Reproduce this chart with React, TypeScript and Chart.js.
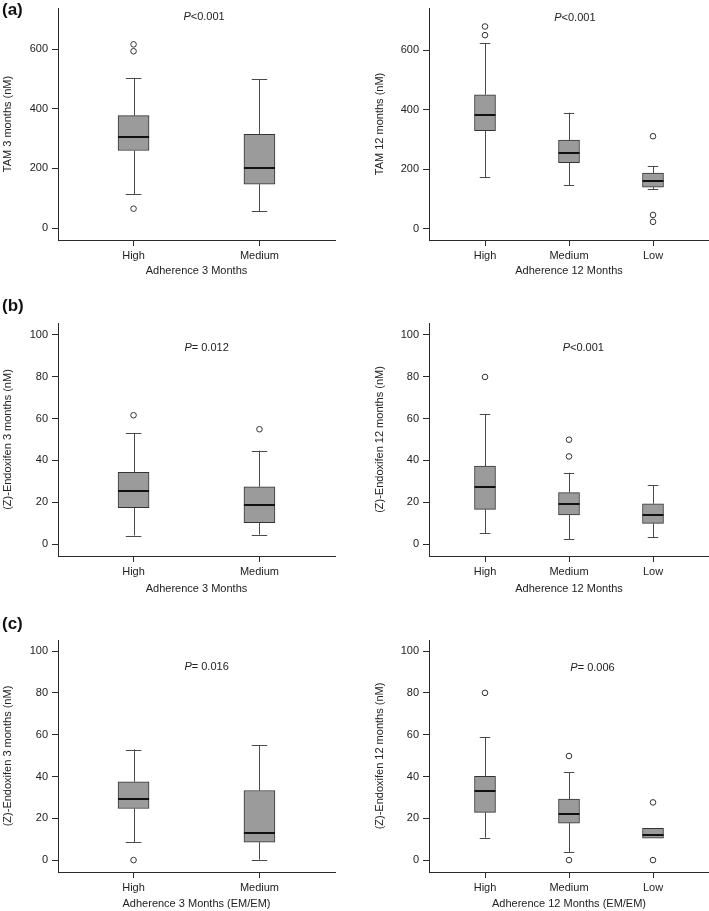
import React, { useEffect, useRef } from "react";
import { Chart, registerables } from "chart.js";

Chart.register(...registerables);

const FONT = "'Liberation Sans', Arial, sans-serif";

// ---------- categories ----------
const GROUPS_3 = ["High", "Medium"];
const GROUPS_12 = ["High", "Medium", "Low"];

// ---------- tick labels ----------
const TAM_TICKS = [0, 200, 400, 600];
const ENDO_TICKS = [0, 20, 40, 60, 80, 100];

// ---------- (a) TAM 3 months ----------
const TAM3_MIN = [114, 57];
const TAM3_Q1 = [260, 147];
const TAM3_MED = [306, 203];
const TAM3_Q3 = [377, 314];
const TAM3_MAX = [504, 500];
const TAM3_OUT = [[616, 593, 65], []];

// ---------- (a) TAM 12 months ----------
const TAM12_MIN = [173, 147, 134];
const TAM12_Q1 = [330, 222, 140];
const TAM12_MED = [381, 254, 161];
const TAM12_Q3 = [450, 298, 187];
const TAM12_MAX = [622, 390, 210];
const TAM12_OUT = [[679, 650], [], [311, 47, 24]];

// ---------- (b) Endoxifen 3 months ----------
const ENDO3_MIN = [4.1, 4.5];
const ENDO3_Q1 = [17.4, 10.2];
const ENDO3_MED = [25.5, 18.5];
const ENDO3_Q3 = [34.3, 27.4];
const ENDO3_MAX = [53.1, 44.7];
const ENDO3_OUT = [[61.6], [54.9]];

// ---------- (b) Endoxifen 12 months ----------
const ENDO12_MIN = [5.1, 2.2, 3.2];
const ENDO12_Q1 = [16.6, 14.0, 9.9];
const ENDO12_MED = [27.3, 19.1, 13.9];
const ENDO12_Q3 = [37.3, 24.6, 19.3];
const ENDO12_MAX = [62.2, 34.1, 28.2];
const ENDO12_OUT = [[79.9], [49.9, 41.9], []];

// ---------- (c) Endoxifen 3 months EM/EM ----------
const EM3_MIN = [8.5, 0.2];
const EM3_Q1 = [24.7, 8.6];
const EM3_MED = [29.3, 13.1];
const EM3_Q3 = [37.5, 33.3];
const EM3_MAX = [52.9, 54.9];
const EM3_OUT = [[0], []];

// ---------- (c) Endoxifen 12 months EM/EM ----------
const EM12_MIN = [10.7, 3.7, 10.5];
const EM12_Q1 = [22.8, 17.7, 10.5];
const EM12_MED = [33.2, 22.0, 12.0];
const EM12_Q3 = [40.1, 29.2, 15.2];
const EM12_MAX = [58.9, 42.0, 15.2];
const EM12_OUT = [[80], [49.8, 0], [27.6, 0]];

type Panel = {
  labels: string[];
  min: number[];
  q1: number[];
  med: number[];
  q3: number[];
  max: number[];
  out: number[][];
  yTitle: string;
  xTitle: string;
  yRange: [number, number];
  yTicks: number[];
  pLabel: string;
  pPos: [number, number];
  // layout
  left: number;
  top: number;
  width: number;
  height: number;
  padTop: number;
  padRight: number;
  yWidth: number;
  xHeight: number;
  yTitlePad: number;
  xRange: [number, number];
  boxPx: number;
};

const COL_L = { left: 0, width: 354, padRight: 19, yWidth: 58, yTitlePad: 1, xRange: [-0.6, 1.6] as [number, number], boxPx: 31 };
const COL_R = { left: 355, width: 354, padRight: 0, yWidth: 74, yTitlePad: 18, xRange: [-2 / 3, 8 / 3] as [number, number], boxPx: 21 };
const ROW_A = { top: 0, height: 278, padTop: 8, xHeight: 38 };
const ROW_B = { top: 290, height: 306, padTop: 33, xHeight: 40 };
const ROW_C = { top: 605, height: 306, padTop: 35, xHeight: 39 };

const PANELS: Panel[] = [
  {
    ...COL_L, ...ROW_A,
    labels: GROUPS_3, min: TAM3_MIN, q1: TAM3_Q1, med: TAM3_MED, q3: TAM3_Q3, max: TAM3_MAX, out: TAM3_OUT,
    yTitle: "TAM 3 months (nM)", xTitle: "Adherence 3 Months", yRange: [-40, 738], yTicks: TAM_TICKS,
    pLabel: "<0.001", pPos: [0.56, 708],
  },
  {
    ...COL_R, ...ROW_A,
    labels: GROUPS_12, min: TAM12_MIN, q1: TAM12_Q1, med: TAM12_MED, q3: TAM12_Q3, max: TAM12_MAX, out: TAM12_OUT,
    yTitle: "TAM 12 months (nM)", xTitle: "Adherence 12 Months", yRange: [-37, 741], yTicks: TAM_TICKS,
    pLabel: "<0.001", pPos: [1.07, 708],
  },
  {
    ...COL_L, ...ROW_B,
    labels: GROUPS_3, min: ENDO3_MIN, q1: ENDO3_Q1, med: ENDO3_MED, q3: ENDO3_Q3, max: ENDO3_MAX, out: ENDO3_OUT,
    yTitle: "(Z)-Endoxifen 3 months (nM)", xTitle: "Adherence 3 Months", yRange: [-5.7, 105.7], yTicks: ENDO_TICKS,
    pLabel: "= 0.012", pPos: [0.58, 93.8],
  },
  {
    ...COL_R, ...ROW_B,
    labels: GROUPS_12, min: ENDO12_MIN, q1: ENDO12_Q1, med: ENDO12_MED, q3: ENDO12_Q3, max: ENDO12_MAX, out: ENDO12_OUT,
    yTitle: "(Z)-Endoxifen 12 months (nM)", xTitle: "Adherence 12 Months", yRange: [-5.7, 105.7], yTicks: ENDO_TICKS,
    pLabel: "<0.001", pPos: [1.17, 93.8],
  },
  {
    ...COL_L, ...ROW_C,
    labels: GROUPS_3, min: EM3_MIN, q1: EM3_Q1, med: EM3_MED, q3: EM3_Q3, max: EM3_MAX, out: EM3_OUT,
    yTitle: "(Z)-Endoxifen 3 months (nM)", xTitle: "Adherence 3 Months (EM/EM)", yRange: [-5.7, 105.3], yTicks: ENDO_TICKS,
    pLabel: "= 0.016", pPos: [0.58, 92.3],
  },
  {
    ...COL_R, ...ROW_C,
    labels: GROUPS_12, min: EM12_MIN, q1: EM12_Q1, med: EM12_MED, q3: EM12_Q3, max: EM12_MAX, out: EM12_OUT,
    yTitle: "(Z)-Endoxifen 12 months (nM)", xTitle: "Adherence 12 Months (EM/EM)", yRange: [-5.7, 105.3], yTicks: ENDO_TICKS,
    pLabel: "= 0.006", pPos: [1.28, 91.9],
  },
];

const INK = "#2b2b2b";

const boxPlugin = {
  id: "boxWhiskers",
  afterDatasetsDraw(chart: any, _args: any, opts: any) {
    const p: Panel = opts.panel;
    const meta = chart.getDatasetMeta(0);
    const y = chart.scales.y;
    const ctx = chart.ctx;
    ctx.save();
    meta.data.forEach((bar: any, i: number) => {
      const cx = bar.x;
      const w = bar.width;
      const capHalf = w * 0.25;
      const yq1 = y.getPixelForValue(p.q1[i]);
      const yq3 = y.getPixelForValue(p.q3[i]);
      const ymin = y.getPixelForValue(p.min[i]);
      const ymax = y.getPixelForValue(p.max[i]);
      const ymed = y.getPixelForValue(p.med[i]);
      const xc = Math.round(cx) + 0.5;
      ctx.strokeStyle = "#4a4a4a";
      ctx.lineWidth = 1;
      ctx.beginPath();
      if (p.max[i] > p.q3[i]) {
        ctx.moveTo(xc, yq3);
        ctx.lineTo(xc, ymax);
        ctx.moveTo(cx - capHalf, Math.round(ymax) + 0.5);
        ctx.lineTo(cx + capHalf, Math.round(ymax) + 0.5);
      }
      if (p.min[i] < p.q1[i]) {
        ctx.moveTo(xc, yq1);
        ctx.lineTo(xc, ymin);
        ctx.moveTo(cx - capHalf, Math.round(ymin) + 0.5);
        ctx.lineTo(cx + capHalf, Math.round(ymin) + 0.5);
      }
      ctx.stroke();
      ctx.strokeStyle = "#111";
      ctx.lineWidth = 2;
      ctx.beginPath();
      ctx.moveTo(cx - w / 2, Math.round(ymed));
      ctx.lineTo(cx + w / 2, Math.round(ymed));
      ctx.stroke();
    });
    // P value annotation
    const xs = chart.scales.x;
    const px = xs.getPixelForValue(p.pPos[0]);
    const py = y.getPixelForValue(p.pPos[1]);
    ctx.fillStyle = "#222";
    ctx.textBaseline = "middle";
    ctx.textAlign = "left";
    ctx.font = `italic 11px ${FONT}`;
    const wP = ctx.measureText("P").width;
    ctx.font = `11px ${FONT}`;
    const wR = ctx.measureText(p.pLabel).width;
    const start = px - (wP + wR) / 2;
    ctx.font = `italic 11px ${FONT}`;
    ctx.fillText("P", start, py);
    ctx.font = `11px ${FONT}`;
    ctx.fillText(p.pLabel, start + wP, py);
    ctx.restore();
  },
};

function BoxPanel({ p }: { p: Panel }) {
  const ref = useRef<HTMLCanvasElement>(null);
  useEffect(() => {
    if (!ref.current) return;
    const boxData = p.labels.map((_, i) => ({ x: i, y: [p.q1[i], p.q3[i]] }));
    const outData: { x: number; y: number }[] = [];
    p.out.forEach((arr, i) => arr.forEach((v) => outData.push({ x: i, y: v })));
    const zeroPad = (s: any) => {
      s.paddingLeft = 0;
      s.paddingRight = 0;
      s.paddingTop = 0;
      s.paddingBottom = 0;
    };
    const chart = new Chart(ref.current, {
      type: "bar",
      data: {
        datasets: [
          {
            type: "bar",
            data: boxData as any,
            backgroundColor: "#9b9b9b",
            borderColor: "#333",
            borderWidth: 1,
            borderSkipped: false,
            barThickness: p.boxPx,
          } as any,
          {
            type: "scatter",
            data: outData,
            pointRadius: 2.8,
            pointBackgroundColor: "#fff",
            pointBorderColor: "#333",
            pointBorderWidth: 1,
          } as any,
        ],
      },
      options: {
        animation: false,
        responsive: false,
        devicePixelRatio: 1,
        layout: { autoPadding: false, padding: { top: p.padTop, right: p.padRight, bottom: 0, left: 0 } } as any,
        plugins: {
          legend: { display: false },
          tooltip: { enabled: false },
          boxWhiskers: { panel: p },
        } as any,
        scales: {
          x: {
            type: "linear",
            min: p.xRange[0],
            max: p.xRange[1],
            offset: false,
            afterBuildTicks: (s: any) => {
              s.ticks = p.labels.map((_, i) => ({ value: i }));
            },
            afterFit: (s: any) => {
              s.height = p.xHeight;
              zeroPad(s);
            },
            ticks: {
              autoSkip: false,
              maxRotation: 0,
              padding: 3,
              color: "#222",
              font: { family: FONT, size: 11 },
              callback: (v: any) => p.labels[Math.round(Number(v))] ?? "",
            },
            grid: { display: true, offset: false, drawOnChartArea: false, drawTicks: true, tickLength: 6, color: INK, lineWidth: 1 },
            border: { display: true, color: INK, width: 1 },
            title: { display: true, text: p.xTitle, color: "#222", font: { family: FONT, size: 11 }, padding: { top: 0, bottom: 0 } },
          },
          y: {
            type: "linear",
            min: p.yRange[0],
            max: p.yRange[1],
            afterBuildTicks: (s: any) => {
              s.ticks = p.yTicks.map((v) => ({ value: v }));
            },
            afterFit: (s: any) => {
              s.width = p.yWidth;
              zeroPad(s);
            },
            ticks: {
              padding: 4,
              color: "#222",
              font: { family: FONT, size: 11 },
            },
            grid: { display: true, offset: false, drawOnChartArea: false, drawTicks: true, tickLength: 6, color: INK, lineWidth: 1 },
            border: { display: true, color: INK, width: 1 },
            title: { display: true, text: p.yTitle, color: "#222", font: { family: FONT, size: 11 }, padding: { top: p.yTitlePad, bottom: 0 } },
          },
        },
      } as any,
      plugins: [boxPlugin as any],
    });
    return () => chart.destroy();
  }, [p]);
  return (
    <canvas
      ref={ref}
      width={p.width}
      height={p.height}
      style={{ position: "absolute", left: p.left, top: p.top, width: p.width, height: p.height }}
    />
  );
}

const PANEL_TAGS = [
  { text: "(a)", top: 1 },
  { text: "(b)", top: 297 },
  { text: "(c)", top: 615 },
];

export default function App() {
  useEffect(() => {
    document.body.style.margin = "0";
    document.body.style.background = "#fff";
  }, []);
  return (
    <div style={{ position: "relative", width: 709, height: 911, background: "#fff", overflow: "hidden" }}>
      {PANELS.map((p, i) => (
        <BoxPanel key={i} p={p} />
      ))}
      {PANEL_TAGS.map((t) => (
        <div
          key={t.text}
          style={{
            position: "absolute",
            left: 2,
            top: t.top,
            fontFamily: FONT,
            fontWeight: "bold",
            fontSize: 17,
            lineHeight: "18px",
            color: "#111",
          }}
        >
          {t.text}
        </div>
      ))}
    </div>
  );
}
